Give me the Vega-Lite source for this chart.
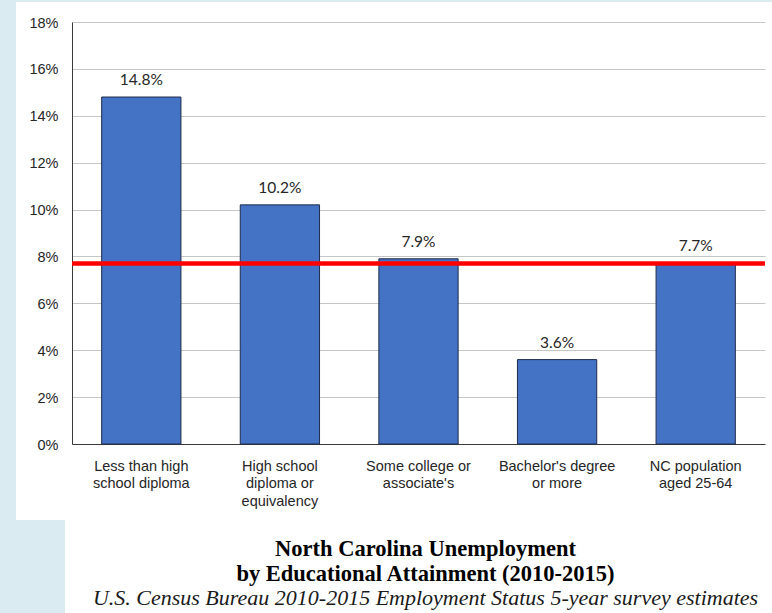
{
  "$schema": "https://vega.github.io/schema/vega-lite/v6.json",
  "padding": 0,
  "background": "#ffffff",
  "config": {
    "view": {"stroke": null},
    "concat": {"spacing": 0}
  },
  "datasets": {
    "rates": [
      {"group": "Less than high\nschool diploma", "rate": 0.148},
      {"group": "High school\ndiploma or\nequivalency", "rate": 0.102},
      {"group": "Some college or\nassociate's", "rate": 0.079},
      {"group": "Bachelor's degree\nor more", "rate": 0.036},
      {"group": "NC population\naged 25-64", "rate": 0.077}
    ],
    "none": []
  },
  "columns": 3,
  "align": "none",
  "bounds": "flush",
  "spacing": 0,
  "concat": [
    {"width": 16, "height": 2, "data": {"name": "none"}, "mark": "point", "view": {"fill": "#daebf2"}},
    {"width": 56, "height": 2, "data": {"name": "none"}, "mark": "point", "view": {"fill": "#daebf2"}},
    {"width": 700, "height": 2, "data": {"name": "none"}, "mark": "point", "view": {"fill": "#daebf2"}},

    {"width": 16, "height": 20, "data": {"name": "none"}, "mark": "point", "view": {"fill": "#daebf2"}},
    {"width": 56, "height": 20, "data": {"name": "none"}, "mark": "point"},
    {"width": 700, "height": 20, "data": {"name": "none"}, "mark": "point"},

    {"width": 16, "height": 422, "data": {"name": "none"}, "mark": "point", "view": {"fill": "#daebf2"}},
    {"width": 56, "height": 422, "data": {"name": "none"}, "mark": "point"},
    {
      "width": 693,
      "height": 422,
      "data": {"name": "rates"},
      "encoding": {
        "x": {
          "field": "group",
          "type": "nominal",
          "sort": null,
          "scale": {"paddingInner": 0.428, "paddingOuter": 0.214},
          "axis": {
            "title": null,
            "labelAngle": 0,
            "labelExpr": "split(datum.label, '\\n')",
            "labelFont": "Liberation Sans",
            "labelFontSize": 14.5,
            "labelColor": "#262626",
            "labelLineHeight": 17.5,
            "labelPadding": 15,
            "labelBaseline": "top",
            "ticks": false,
            "domain": true,
            "domainColor": "#3a3a3a",
            "domainWidth": 1
          }
        },
        "y": {
          "field": "rate",
          "type": "quantitative",
          "scale": {"domain": [0, 0.18], "nice": false},
          "axis": {
            "title": null,
            "values": [0, 0.02, 0.04, 0.06, 0.08, 0.1, 0.12, 0.14, 0.16, 0.18],
            "format": ".0%",
            "labelFont": "Liberation Sans",
            "labelFontSize": 14.5,
            "labelColor": "#262626",
            "labelPadding": 14,
            "labelOffset": 1,
            "ticks": false,
            "grid": true,
            "gridColor": "#c6c6c6",
            "gridWidth": 1,
            "domain": true,
            "domainColor": "#3a3a3a",
            "domainWidth": 1
          }
        }
      },
      "layer": [
        {
          "mark": {"type": "bar", "color": "#4472c4", "stroke": "#1f2c4c", "strokeWidth": 1}
        },
        {
          "mark": {"type": "text", "baseline": "alphabetic", "dy": -12, "font": "Lato", "fontSize": 15.5, "color": "#262626"},
          "encoding": {"text": {"field": "rate", "type": "quantitative", "format": ".1%"}}
        },
        {
          "transform": [{"filter": "datum.group === 'NC population\\naged 25-64'"}],
          "mark": {"type": "rule", "color": "#ff0000", "strokeWidth": 4.5, "x2Offset": 7},
          "encoding": {"x": null}
        }
      ]
    },

    {"width": 16, "height": 76, "data": {"name": "none"}, "mark": "point", "view": {"fill": "#daebf2"}},
    {"width": 56, "height": 76, "data": {"name": "none"}, "mark": "point"},
    {"width": 700, "height": 76, "data": {"name": "none"}, "mark": "point"},

    {"width": 16, "height": 93, "data": {"name": "none"}, "mark": "point", "view": {"fill": "#daebf2"}},
    {"width": 49, "height": 93, "data": {"name": "none"}, "mark": "point", "view": {"fill": "#daebf2"}},
    {
      "width": 707, "height": 93,
      "data": {"name": "none"},
      "mark": "point",
      "title": {
        "text": ["North Carolina Unemployment", "by Educational Attainment (2010-2015)"],
        "subtitle": "U.S. Census Bureau 2010-2015 Employment Status 5-year survey estimates",
        "orient": "top",
        "anchor": "middle",
        "frame": "group",
        "offset": -89,
        "dx": 0,
        "font": "Liberation Serif",
        "fontSize": 22.5,
        "fontWeight": "bold",
        "color": "#000000",
        "lineHeight": 25,
        "subtitleFont": "Liberation Serif",
        "subtitleFontSize": 22,
        "subtitleFontStyle": "italic",
        "subtitleColor": "#1a1a1a",
        "subtitlePadding": 3
      }
    }
  ]
}
